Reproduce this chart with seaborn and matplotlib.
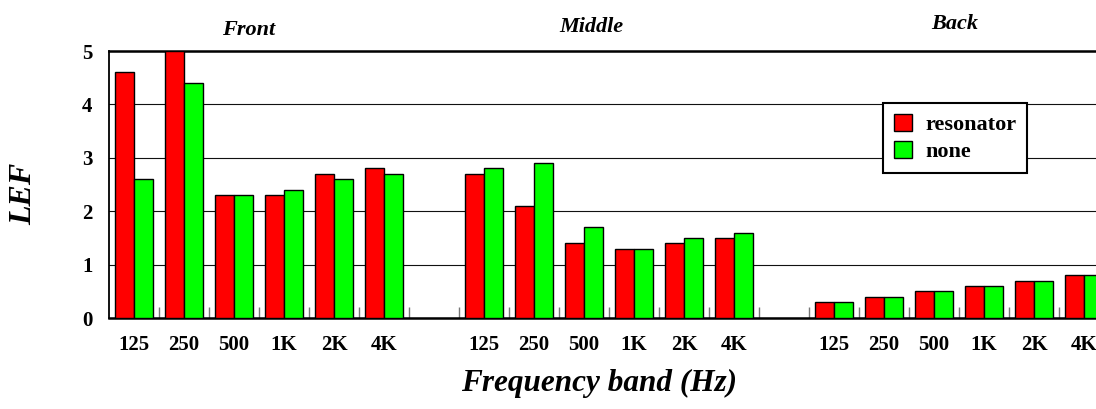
import numpy as np
import pandas as pd
import matplotlib.pyplot as plt
import seaborn as sns

sns.set_theme(style="white")
plt.rcParams['font.family'] = ['Liberation Serif', 'DejaVu Serif']
plt.rcParams['text.color'] = 'black'
plt.rcParams['axes.labelcolor'] = 'black'

# data
bands = ["125", "250", "500", "1K", "2K", "4K"]
sections = ["Front", "Middle", "Back"]
front_res = [4.6, 5.0, 2.3, 2.3, 2.7, 2.8]
front_none = [2.6, 4.4, 2.3, 2.4, 2.6, 2.7]
middle_res = [2.7, 2.1, 1.4, 1.3, 1.4, 1.5]
middle_none = [2.8, 2.9, 1.7, 1.3, 1.5, 1.6]
back_res = [0.3, 0.4, 0.5, 0.6, 0.7, 0.8]
back_none = [0.3, 0.4, 0.5, 0.6, 0.7, 0.8]

series = {"Front": (front_res, front_none),
          "Middle": (middle_res, middle_none),
          "Back": (back_res, back_none)}

rows = []
slots = []
labels = []
for sec in sections:
    res, none = series[sec]
    for b, r, n in zip(bands, res, none):
        key = sec + "_" + b
        slots.append(key)
        labels.append(b)
        rows.append({"slot": key, "type": "resonator", "LEF": r})
        rows.append({"slot": key, "type": "none", "LEF": n})
    if sec != sections[-1]:
        # empty slot between sections
        slots.append(sec + "_gap")
        labels.append("")
df = pd.DataFrame(rows)

W, H = 1096, 409
fig = plt.figure(figsize=(W / 100, H / 100), dpi=100)
ax = fig.add_axes([109 / W, (H - 318) / H, 1000 / W, 267 / H])

sns.barplot(data=df, x="slot", y="LEF", hue="type", order=slots,
            hue_order=["resonator", "none"],
            palette={"resonator": "#ff0000", "none": "#00ff00"},
            saturation=1, width=0.76, edgecolor="black", linewidth=1,
            ax=ax, zorder=3)

ax.set_xlim(-0.5, len(slots) - 0.5)
ax.set_ylim(0, 5)
ax.set_yticks([0, 1, 2, 3, 4, 5])
ax.set_xticks(range(len(slots)))
ax.set_xticklabels(labels)
ax.set_xticks(np.arange(0.5, len(slots) - 1, 1.0), minor=True)
ax.tick_params(axis="x", which="major", length=0, pad=12, labelsize=15,
               labelcolor="black")
ax.tick_params(axis="x", which="minor", direction="in", length=8,
               width=1, color="#777777", bottom=True)
ax.tick_params(axis="y", length=0, pad=12, labelsize=15, labelcolor="black")
for t in ax.get_xticklabels() + ax.get_yticklabels():
    t.set_fontweight("bold")

ax.yaxis.grid(True, color="#111111", linewidth=0.8)
ax.set_axisbelow(True)
for side in ["top", "bottom"]:
    ax.spines[side].set_linewidth(1.8)
    ax.spines[side].set_color("black")
ax.spines["left"].set_linewidth(1.3)
ax.spines["left"].set_color("black")
ax.spines["right"].set_visible(False)

ax.set_xlabel("")
ax.set_ylabel("")
fig.text(599 / W, 1 - 383 / H, "Frequency band (Hz)", fontsize=22.5,
         fontweight="bold", fontstyle="italic", ha="center", va="center")
fig.text(24 / W, 1 - 194 / H, "LEF", fontsize=23, fontweight="bold",
         fontstyle="italic", ha="center", va="center", rotation=90)

# section titles
for name, px, py in [("Front", 249, 30), ("Middle", 591, 27), ("Back", 955, 24)]:
    fig.text(px / W, 1 - py / H, name, fontsize=16, fontweight="bold",
             fontstyle="italic", ha="center", va="center")

leg = ax.legend(loc="upper left", bbox_to_anchor=(883 / W, 1 - 103 / H),
                bbox_transform=fig.transFigure, borderaxespad=0,
                frameon=True, fancybox=False, edgecolor="black",
                framealpha=1, prop={"weight": "bold", "size": 16},
                handlelength=0.8, handleheight=0.8, handletextpad=0.6,
                labelspacing=0.25, borderpad=0.5, title=None)
leg.get_frame().set_linewidth(1.5)
leg.get_frame().set_edgecolor("black")
leg.get_frame().set_facecolor("white")
leg.set_zorder(5)

fig.savefig("out.png", dpi=100)
